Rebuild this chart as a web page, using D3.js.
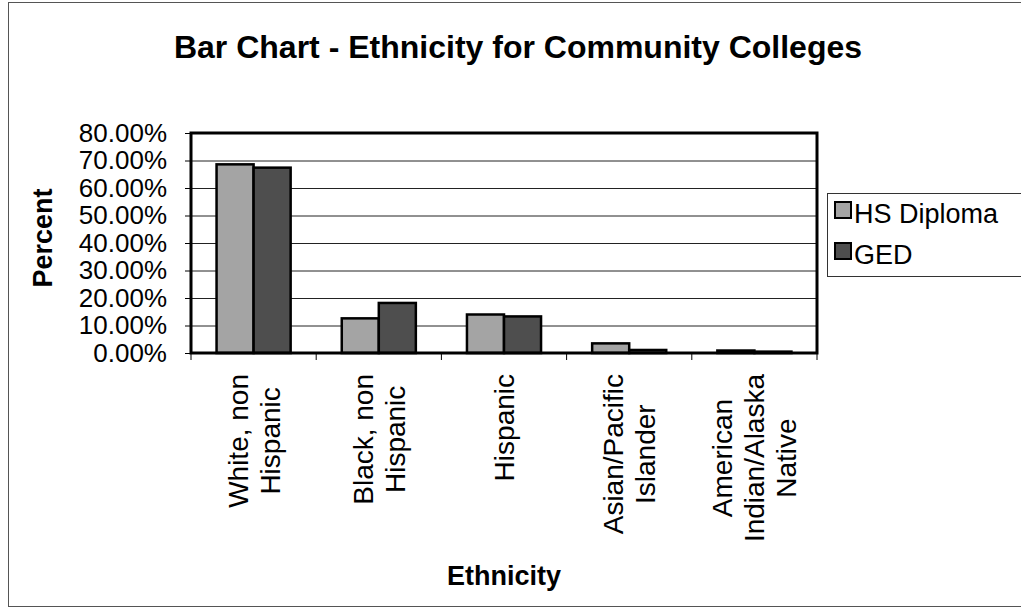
<!DOCTYPE html>
<html>
<head>
<meta charset="utf-8">
<title>Bar Chart - Ethnicity for Community Colleges</title>
<style>
  body {margin: 0; background: white;}
  svg text {font-family: "Liberation Sans", Arial, sans-serif; fill: black;}
</style>
</head>
<body>
<svg id="chart" width="1021" height="611"></svg>
<script src="https://d3js.org/d3.v7.min.js"></script>
<script>
// data
var categories = [["White, non", "Hispanic"], ["Black, non", "Hispanic"], ["Hispanic"],
                  ["Asian/Pacific", "Islander"], ["American", "Indian/Alaska", "Native"]];
var seriesNames = ["HS Diploma", "GED"];
var hsDiploma = [68.6, 12.6, 14.0, 3.5, 0.9];
var ged = [67.4, 18.2, 13.3, 1.1, 0.5];
var yTicks = [0, 10, 20, 30, 40, 50, 60, 70, 80];

var colors = {"HS Diploma": "#a4a4a4", "GED": "#4e4e4e"};

var svg = d3.select("#chart");
var plot = {left: 191, right: 817, top: 133, bottom: 353};

// chart area border
svg.append("rect").attr("x", 8.5).attr("y", 2.5).attr("width", 1030).attr("height", 604)
   .attr("fill", "none").attr("stroke", "#555").attr("stroke-width", 1);

var catKeys = categories.map(function(d, i){ return i; });
var x = d3.scaleBand().domain(catKeys).range([plot.left, plot.right]).padding(0);
var xs = d3.scaleBand().domain(seriesNames).range([0, x.bandwidth()])
           .paddingInner(0).paddingOuter(0.69);
var y = d3.scaleLinear().domain([0, 80]).range([plot.bottom, plot.top]);

// gridlines
svg.append("g").selectAll("line").data(yTicks.slice(1, -1)).enter().append("line")
   .attr("x1", plot.left).attr("x2", plot.right)
   .attr("y1", function(d){ return y(d) + 0.5; }).attr("y2", function(d){ return y(d) + 0.5; })
   .attr("stroke", "#222").attr("stroke-width", 1);

// y axis
var yAxis = d3.axisLeft(y).tickValues(yTicks).tickSize(6).tickPadding(18)
              .tickFormat(function(d){ return d.toFixed(2) + "%"; });
var gy = svg.append("g").attr("transform", "translate(" + plot.left + ",0)").call(yAxis);
gy.select(".domain").remove();
gy.selectAll("line").attr("stroke", "black");
gy.selectAll("text").attr("font-size", 26).attr("font-family", "Liberation Sans, Arial, sans-serif")
  .attr("fill", "black");

// bars
var rows = [];
categories.forEach(function(c, i){
  rows.push({cat: i, s: "HS Diploma", v: hsDiploma[i]});
  rows.push({cat: i, s: "GED", v: ged[i]});
});
svg.append("g").selectAll("rect").data(rows).enter().append("rect")
   .attr("x", function(d){ return x(d.cat) + xs(d.s); })
   .attr("y", function(d){ return y(d.v); })
   .attr("width", xs.bandwidth())
   .attr("height", function(d){ return y(0) - y(d.v); })
   .attr("fill", function(d){ return colors[d.s]; })
   .attr("stroke", "black").attr("stroke-width", 2.5);

// plot border
svg.append("rect").attr("x", plot.left).attr("y", plot.top)
   .attr("width", plot.right - plot.left).attr("height", plot.bottom - plot.top)
   .attr("fill", "none").attr("stroke", "black").attr("stroke-width", 3);

// x ticks at category boundaries
var bounds = catKeys.map(function(i){ return x(i); }).concat([plot.right]);
svg.append("g").selectAll("line").data(bounds).enter().append("line")
   .attr("x1", function(d){ return d; }).attr("x2", function(d){ return d; })
   .attr("y1", plot.bottom).attr("y2", plot.bottom + 7)
   .attr("stroke", "black").attr("stroke-width", 1);

// rotated category labels
var labelTop = 374, lineH = 32;
var gl = svg.append("g");
categories.forEach(function(lines, i){
  var cx = x(i) + x.bandwidth() / 2;
  var g = gl.append("g");
  var texts = lines.map(function(t){
    return g.append("text").attr("font-size", 28).attr("text-anchor", "middle").text(t);
  });
  var maxLen = d3.max(texts, function(t){ return t.node().getComputedTextLength(); });
  var cy = labelTop + maxLen / 2;
  texts.forEach(function(t, j){
    var off = (j - (lines.length - 1) / 2) * lineH + 10;
    t.attr("transform", "translate(" + (cx + off) + "," + cy + ") rotate(-90)");
  });
});

// title and axis titles
svg.append("text").attr("x", 518).attr("y", 58).attr("text-anchor", "middle")
   .attr("font-size", 32).attr("font-weight", "bold")
   .text("Bar Chart - Ethnicity for Community Colleges");
svg.append("text").attr("transform", "translate(52,238) rotate(-90)").attr("text-anchor", "middle")
   .attr("font-size", 27).attr("font-weight", "bold").text("Percent");
svg.append("text").attr("x", (plot.left + plot.right) / 2).attr("y", 585).attr("text-anchor", "middle")
   .attr("font-size", 27).attr("font-weight", "bold").text("Ethnicity");

// legend
var leg = svg.append("g");
leg.append("rect").attr("x", 827.5).attr("y", 193.5).attr("width", 220).attr("height", 83)
   .attr("fill", "white").attr("stroke", "#333").attr("stroke-width", 1);
seriesNames.forEach(function(s, i){
  var yy = 202 + i * 41;
  leg.append("rect").attr("x", 835).attr("y", yy).attr("width", 16).attr("height", 16)
     .attr("fill", colors[s]).attr("stroke", "black").attr("stroke-width", 2);
  leg.append("text").attr("x", 854).attr("y", yy + 21).attr("font-size", 27).text(s);
});
</script>
</body>
</html>
